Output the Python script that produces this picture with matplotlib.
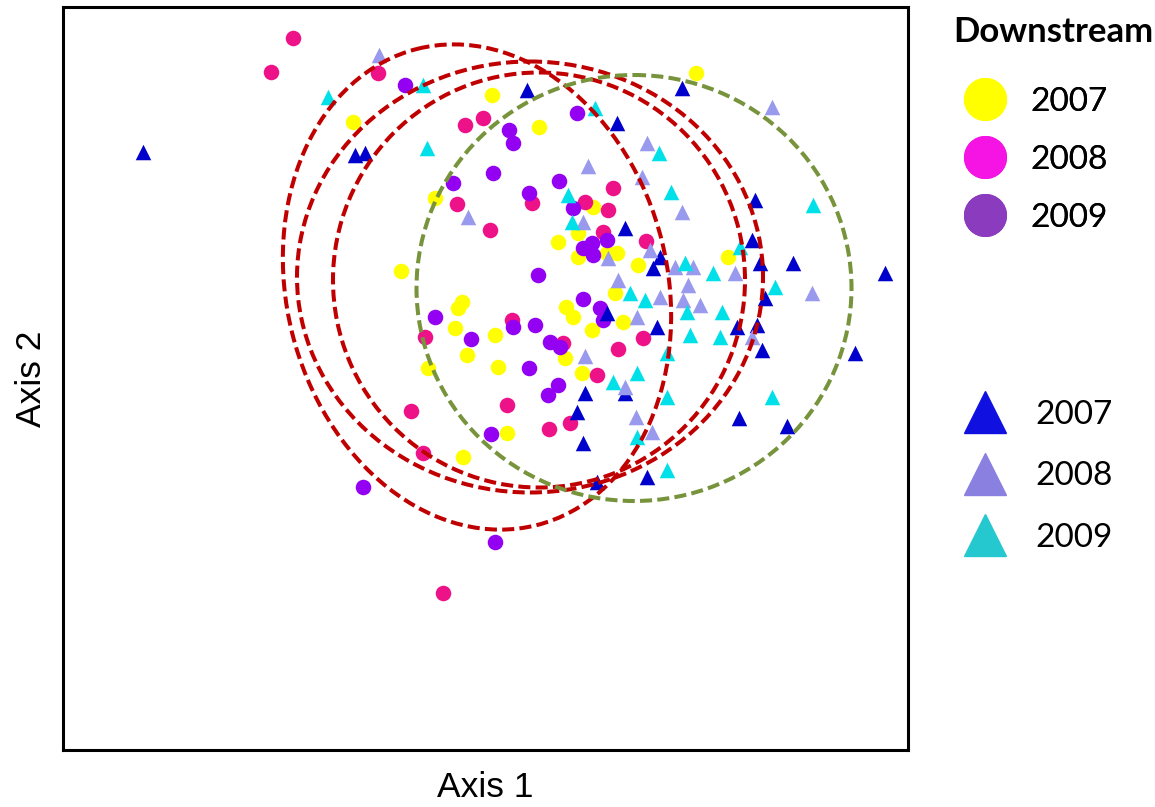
import matplotlib.pyplot as plt
from matplotlib.patches import Ellipse
from matplotlib.lines import Line2D

plt.rcParams['font.family'] = ['Liberation Sans', 'DejaVu Sans']

# scores (axis 2 grows downward, like the picture)
ds07_x = [696, 492, 539, 353, 435, 593, 578, 558, 578, 607, 617, 638, 728, 401, 462, 458, 455,
          467, 428, 495, 498, 507, 463, 566, 573, 592, 615, 623, 565, 582]
ds07_y = [73, 95, 127, 122, 198, 207, 233, 242, 257, 253, 253, 265, 257, 271, 302, 308, 328,
          355, 368, 335, 367, 433, 457, 307, 317, 330, 293, 322, 358, 373]

ds08_x = [293, 271, 378, 465, 483, 457, 490, 532, 585, 613, 608, 603, 646, 512, 425, 563, 597,
          618, 643, 507, 411, 549, 570, 423, 443]
ds08_y = [38, 72, 73, 125, 118, 204, 230, 203, 202, 188, 210, 232, 241, 320, 337, 343, 375,
          349, 338, 405, 411, 429, 423, 453, 593]

ds09_x = [405, 509, 513, 577, 453, 493, 529, 559, 573, 592, 607, 593, 583, 538, 435, 471, 513,
          535, 583, 600, 603, 550, 560, 529, 558, 548, 491, 363, 495]
ds09_y = [85, 130, 143, 113, 183, 173, 193, 181, 208, 243, 240, 255, 248, 275, 317, 339, 327,
          325, 299, 308, 320, 342, 347, 368, 385, 395, 434, 487, 542]

us07_x = [143, 355, 365, 527, 617, 682, 625, 755, 752, 660, 653, 760, 793, 885, 765, 737, 757,
          762, 855, 657, 607, 585, 625, 577, 583, 597, 739, 787, 647]
us07_y = [152, 155, 153, 90, 123, 88, 228, 200, 240, 257, 268, 263, 263, 273, 298, 327, 325,
          350, 353, 327, 313, 393, 393, 412, 443, 482, 418, 426, 477]

us08_x = [379, 588, 468, 583, 772, 647, 642, 682, 650, 608, 618, 675, 693, 735, 688, 683, 700,
          660, 812, 752, 637, 585, 625, 636, 652]
us08_y = [55, 166, 217, 222, 107, 143, 177, 212, 250, 258, 280, 267, 267, 273, 285, 300, 305,
          297, 293, 337, 317, 356, 387, 417, 432]

us09_x = [328, 423, 427, 595, 568, 572, 659, 671, 813, 740, 685, 713, 775, 630, 645, 687, 722,
          690, 720, 667, 637, 613, 667, 772, 637, 667]
us09_y = [97, 85, 148, 108, 195, 222, 153, 192, 205, 247, 263, 273, 287, 293, 300, 312, 312,
          335, 337, 353, 373, 382, 397, 397, 437, 470]

years = ['2007', '2008', '2009']

# confidence ellipses: centre x, centre y, width, height, angle
ell_cx = [477, 530, 539, 634]
ell_cy = [287, 277, 280, 288]
ell_w = [381, 466, 412, 435]
ell_h = [491, 431, 415, 426]
ell_ang = [-14, 0, 0, 0]
ell_col = ['#C00000', '#C00000', '#C00000', '#77933C']

circ_cols = ['#FFFF00', '#EE1289', '#9300F2']
tri_cols = ['#0000CC', '#9999EE', '#00E0E8']
leg_circ = ['#FFFF00', '#F514E3', '#8A3BBE']
leg_tri = ['#1010E0', '#8A80E0', '#26C8CF']

fig = plt.figure(figsize=(11.55, 8.07), dpi=100)
ax = fig.add_axes([63/1155, 1 - 750/807, (908-63)/1155, (750-7)/807])

for xs, ys, c in zip([ds07_x, ds08_x, ds09_x], [ds07_y, ds08_y, ds09_y], circ_cols):
    ax.scatter(xs, ys, s=125, marker='o', color=c, linewidths=0, zorder=2)
for xs, ys, c in zip([us07_x, us08_x, us09_x], [us07_y, us08_y, us09_y], tri_cols):
    ax.scatter(xs, ys, s=125, marker='^', color=c, linewidths=0, zorder=2)

for cx, cy, w, h, a, c in zip(ell_cx, ell_cy, ell_w, ell_h, ell_ang, ell_col):
    ax.add_patch(Ellipse((cx, cy), w, h, angle=a, fill=False, edgecolor=c,
                         lw=2.9, linestyle=(0, (3, 1.3)), zorder=3))

ax.set_xlim(63, 908)
ax.set_ylim(750, 7)
ax.set_xticks([])
ax.set_yticks([])
for sp in ax.spines.values():
    sp.set_linewidth(2.2)
ax.set_xlabel('Axis 1', fontsize=25.5, labelpad=15)
ax.set_ylabel('Axis 2', fontsize=25.5, labelpad=11)

fig.text(953/1155, 1 - 32/807, 'Downstream', family='Lato', weight='bold', size=25,
         ha='left', va='center')

h1 = [Line2D([], [], marker='o', ls='', ms=30, color=c) for c in leg_circ]
h2 = [Line2D([], [], marker='^', ls='', ms=30, color=c) for c in leg_tri]
leg1 = fig.legend(h1, years, loc='upper left',
                  bbox_to_anchor=(953/1155, 1 - 87/807), frameon=False,
                  prop={'family': 'Lato', 'size': 24}, borderpad=0, borderaxespad=0,
                  handlelength=1.92, handletextpad=0.39, labelspacing=0.84)
fig.add_artist(leg1)
leg2 = fig.legend(h2, years, loc='upper left',
                  bbox_to_anchor=(953/1155, 1 - 400/807), frameon=False,
                  prop={'family': 'Lato', 'size': 24}, borderpad=0, borderaxespad=0,
                  handlelength=1.92, handletextpad=0.54, labelspacing=0.94)

fig.savefig('out.png')
